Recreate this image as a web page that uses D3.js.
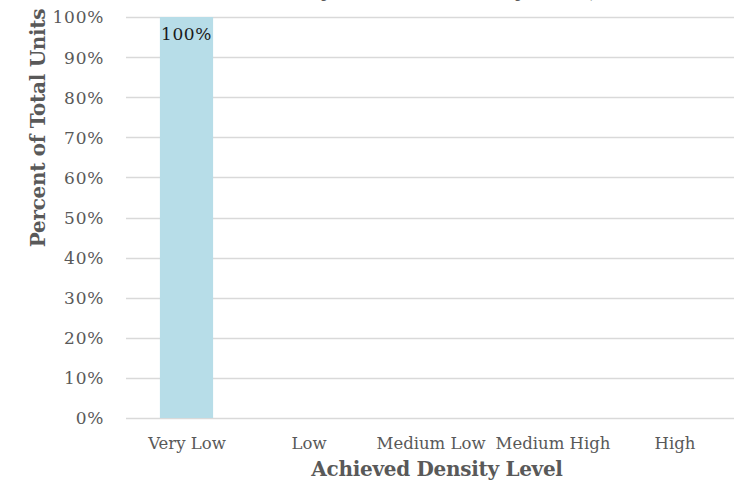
<!DOCTYPE html>
<html>
<head>
<meta charset="utf-8">
<script src="https://cdn.jsdelivr.net/npm/d3@7"></script>
<style>
  html, body { margin: 0; padding: 0; background: #fff; }
  svg { display: block; }
</style>
</head>
<body>
<svg id="chart" width="734" height="481"></svg>
<script>
const categories = ["Very Low", "Low", "Medium Low", "Medium High", "High"];
const values = [1.00, null, null, null, null];
const yTicks = [0, 0.1, 0.2, 0.3, 0.4, 0.5, 0.6, 0.7, 0.8, 0.9, 1.0];
const titleText = "Percent of Units by Achieved Density Level, 2020";
const xTitle = "Achieved Density Level";
const yTitle = "Percent of Total Units";

const svg = d3.select("#chart");
const font = "'DejaVu Serif', 'Liberation Serif', serif";
const plotL = 126, plotR = 736, plotT = 17, plotB = 418;

const x = d3.scaleBand().domain(categories).range([plotL, plotR]).paddingInner(0).paddingOuter(0);
const y = d3.scaleLinear().domain([0, 1]).range([plotB, plotT]);
const barW = x.step() * 0.436;

// gridlines
svg.append("g").selectAll("line").data(yTicks).join("line")
  .attr("x1", plotL).attr("x2", plotR)
  .attr("y1", d => Math.round(y(d)) + 0.5).attr("y2", d => Math.round(y(d)) + 0.5)
  .attr("stroke", "#d9d9d9").attr("stroke-width", 1.3);

// y tick labels
const yAxis = d3.axisLeft(y).tickValues(yTicks).tickFormat(d3.format(".0%")).tickSize(0).tickPadding(0);
const ya = svg.append("g").attr("transform", `translate(104,0)`).call(yAxis);
ya.select(".domain").remove();
ya.selectAll("text").attr("font-family", font).attr("font-size", 17).attr("fill", "#595959")
  .attr("letter-spacing", 0.7).attr("dy", "0.35em");

// bars
const data = categories.map((c, i) => ({ c, v: values[i] })).filter(d => d.v != null);
svg.append("g").selectAll("rect").data(data).join("rect")
  .attr("x", d => x(d.c) + x.step() / 2 - barW / 2 - 0.5)
  .attr("width", barW)
  .attr("y", d => y(d.v))
  .attr("height", d => y(0) - y(d.v))
  .attr("fill", "#b7dde8");

// value labels
svg.append("g").selectAll("text").data(data).join("text")
  .attr("x", d => x(d.c) + x.step() / 2 - 0.5)
  .attr("y", d => y(d.v) + 23)
  .attr("text-anchor", "middle")
  .attr("font-family", font).attr("font-size", 17).attr("fill", "#1a1a1a")
  .attr("letter-spacing", 0.6)
  .text(d => d3.format(".0%")(d.v));

// x axis labels
const xAxis = d3.axisBottom(x).tickSize(0).tickPadding(0);
const xa = svg.append("g").attr("transform", `translate(0,437)`).call(xAxis);
xa.select(".domain").remove();
xa.selectAll("text").attr("font-family", font).attr("font-size", 16.5).attr("fill", "#595959")
  .attr("dy", "0.71em");

// axis titles
svg.append("text")
  .attr("x", 437).attr("y", 476)
  .attr("text-anchor", "middle")
  .attr("font-family", font).attr("font-size", 20).attr("font-weight", "bold")
  .attr("fill", "#595959").attr("letter-spacing", -0.3)
  .text(xTitle);

svg.append("text")
  .attr("transform", "translate(45,128) rotate(-90)")
  .attr("text-anchor", "middle")
  .attr("font-family", font).attr("font-size", 20).attr("font-weight", "bold")
  .attr("fill", "#595959").attr("letter-spacing", -0.3)
  .text(yTitle);

// chart title (cut off at the top edge in the reference)
svg.append("text")
  .attr("x", 390).attr("y", -3)
  .attr("text-anchor", "middle")
  .attr("font-family", font).attr("font-size", 20).attr("font-weight", "bold")
  .attr("fill", "#595959").attr("letter-spacing", -0.3)
  .text(titleText);
</script>
</body>
</html>
